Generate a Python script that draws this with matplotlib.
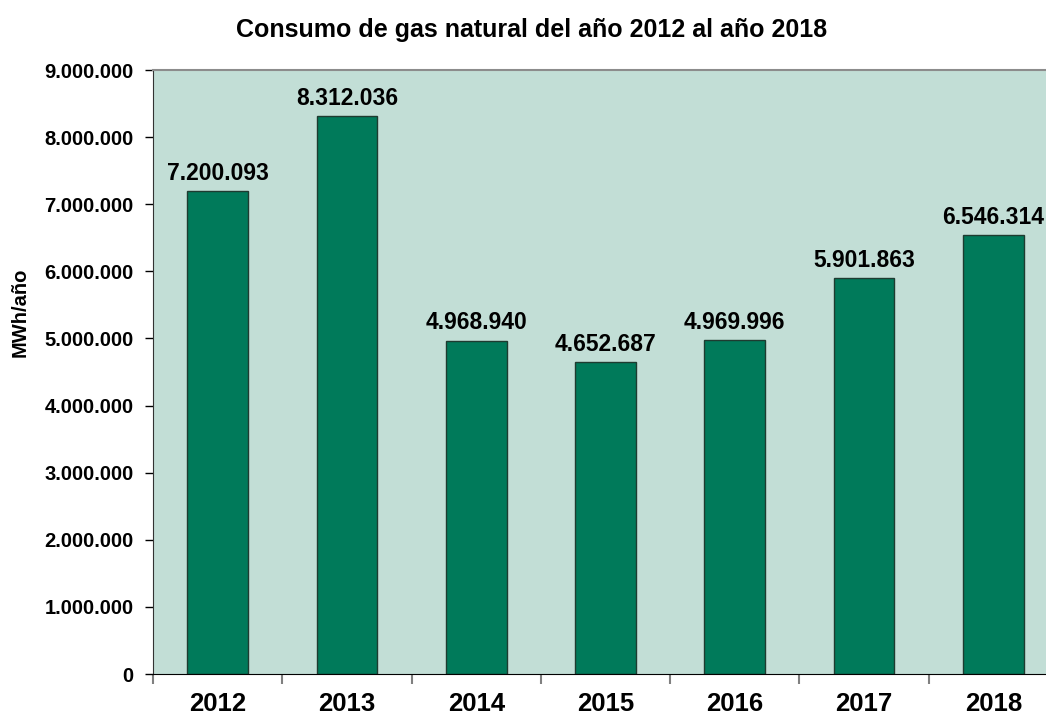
import numpy as np
import matplotlib.pyplot as plt
from matplotlib.ticker import FuncFormatter

years = ['2012', '2013', '2014', '2015', '2016', '2017', '2018']
consumo = [7200093, 8312036, 4968940, 4652687, 4969996, 5901863, 6546314]

plt.rcParams['font.family'] = ['Liberation Sans', 'DejaVu Sans']
plt.rcParams['font.weight'] = 'bold'

fig = plt.figure(figsize=(10.46, 7.16), dpi=100)
ax = fig.add_axes([153/1046, 1-674/716, (1058-153)/1046, (674-70)/716])
ax.set_facecolor('#c2ded6')

x = np.arange(len(years))
bars = ax.bar(x, consumo, width=0.47, color='#007a5a', edgecolor='#1e3b30', linewidth=1)

def miles(v, pos=None):
    return f'{int(round(v)):,}'.replace(',', '.')

for xi, v in zip(x, consumo):
    ax.text(xi, v + 90000, miles(v), ha='center', va='bottom', fontsize=16.5, fontweight='bold')

ax.set_xlim(-0.5, len(years) - 0.5)
ax.set_ylim(0, 9000000)
ax.set_yticks(np.arange(0, 9000001, 1000000))
ax.yaxis.set_major_formatter(FuncFormatter(miles))
ax.set_xticks(x)
ax.set_xticklabels(years, fontsize=18.5, fontweight='bold')
ax.set_xticks(np.arange(-0.5, len(years), 1), minor=True)
ax.tick_params(axis='x', which='major', length=0, pad=13)
ax.tick_params(axis='x', which='minor', length=7, color='#808080', width=1.5)
ax.tick_params(axis='y', labelsize=14.5, length=6, width=1, pad=8)
for lab in ax.get_yticklabels():
    lab.set_fontweight('bold')

ax.spines['top'].set_color('#8c8c8c')
ax.spines['top'].set_linewidth(1.5)
ax.spines['right'].set_visible(False)
ax.spines['left'].set_color('#333333')
ax.spines['bottom'].set_color('black')

fig.text(20/1046, 1-312/716, 'MWh/año', rotation=90, ha='center', va='center',
         fontsize=14.5, fontweight='bold')
fig.text(532/1046, 1-30/716, 'Consumo de gas natural del año 2012 al año 2018',
         ha='center', va='center', fontsize=18, fontweight='bold')

fig.savefig('out.png', dpi=100)
